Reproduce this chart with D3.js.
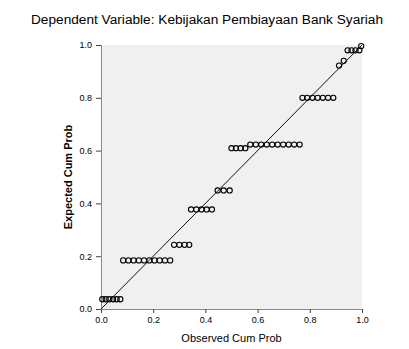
<!DOCTYPE html>
<html>
<head>
<meta charset="utf-8">
<script src="https://cdn.jsdelivr.net/npm/d3@7"></script>
<style>
  body { margin: 0; background: #fff; }
  svg { display: block; font-family: "Liberation Sans", Arial, sans-serif; }
</style>
</head>
<body>
<svg id="chart" width="409" height="349"></svg>
<script>
// Normal P-P plot: observed vs expected cumulative probability
const title = 'Dependent Variable: Kebijakan Pembiayaan Bank Syariah';
const xTitle = 'Observed Cum Prob';
const yTitle = 'Expected Cum Prob';
const tickValues = [0, 0.2, 0.4, 0.6, 0.8, 1.0];

const observed = [
    0.005, 0.018, 0.032, 0.046, 0.060, 0.074,
    0.085, 0.105, 0.125, 0.145, 0.165, 0.185, 0.205, 0.225, 0.245, 0.265,
    0.280, 0.300, 0.320, 0.338,
    0.345, 0.365, 0.385, 0.405, 0.425,
    0.447, 0.470, 0.493,
    0.500, 0.517, 0.535, 0.553,
    0.572, 0.593, 0.614, 0.635, 0.656, 0.677, 0.698, 0.719, 0.740, 0.761,
    0.772, 0.790, 0.810, 0.830, 0.850, 0.870, 0.890,
    0.912, 0.930,
    0.945, 0.960, 0.975, 0.990,
    0.997
];
const expected = [
    0.037, 0.037, 0.037, 0.037, 0.037, 0.037,
    0.184, 0.184, 0.184, 0.184, 0.184, 0.184, 0.184, 0.184, 0.184, 0.184,
    0.243, 0.243, 0.243, 0.243,
    0.377, 0.377, 0.377, 0.377, 0.377,
    0.449, 0.449, 0.449,
    0.609, 0.609, 0.609, 0.609,
    0.623, 0.623, 0.623, 0.623, 0.623, 0.623, 0.623, 0.623, 0.623, 0.623,
    0.800, 0.800, 0.800, 0.800, 0.800, 0.800, 0.800,
    0.922, 0.940,
    0.980, 0.980, 0.980, 0.980,
    0.996
];

const svg = d3.select('#chart');
const plot = { left: 101, right: 362, top: 45, bottom: 309 };

const x = d3.scaleLinear().domain([0, 1]).range([plot.left, plot.right]);
const y = d3.scaleLinear().domain([0, 1]).range([plot.bottom, plot.top]);

svg.append('rect')
    .attr('x', plot.left)
    .attr('y', plot.top)
    .attr('width', plot.right - plot.left)
    .attr('height', plot.bottom - plot.top)
    .attr('fill', '#f0f0f0');

const fmt = d3.format('.1f');

const xAxis = svg.append('g')
    .attr('transform', `translate(0,${plot.bottom})`)
    .call(d3.axisBottom(x).tickValues(tickValues).tickFormat(fmt).tickSize(4).tickPadding(4));
const yAxis = svg.append('g')
    .attr('transform', `translate(${plot.left},0)`)
    .call(d3.axisLeft(y).tickValues(tickValues).tickFormat(fmt).tickSize(5).tickPadding(4));

[xAxis, yAxis].forEach(function (g) {
    g.select('.domain').attr('stroke', '#888');
    g.selectAll('.tick line').attr('stroke', '#444');
    g.selectAll('.tick text')
        .attr('fill', '#000')
        .style('font-size', '9px')
        .style('font-family', '"Liberation Sans", Arial, sans-serif');
});

// reference diagonal
svg.append('line')
    .attr('x1', x(0)).attr('y1', y(0))
    .attr('x2', x(1)).attr('y2', y(1))
    .attr('stroke', '#111')
    .attr('stroke-width', 1);

const points = observed.map(function (d, i) {
    return { obs: d, exp: expected[i] };
});

svg.append('g')
    .selectAll('circle')
    .data(points)
    .join('circle')
    .attr('cx', function (d) { return x(d.obs); })
    .attr('cy', function (d) { return y(d.exp); })
    .attr('r', 2.6)
    .attr('fill', 'none')
    .attr('stroke', '#000')
    .attr('stroke-width', 1.1);

svg.append('text')
    .attr('x', 207)
    .attr('y', 24)
    .attr('text-anchor', 'middle')
    .attr('textLength', 352)
    .attr('lengthAdjust', 'spacingAndGlyphs')
    .style('font-size', '12.5px')
    .attr('fill', '#000')
    .text(title);

svg.append('text')
    .attr('x', (plot.left + plot.right) / 2)
    .attr('y', 342)
    .attr('text-anchor', 'middle')
    .style('font-size', '11px')
    .attr('fill', '#000')
    .text(xTitle);

svg.append('text')
    .attr('transform', `translate(72,${(plot.top + plot.bottom) / 2}) rotate(-90)`)
    .attr('text-anchor', 'middle')
    .style('font-size', '11px')
    .style('font-weight', 'bold')
    .attr('fill', '#000')
    .text(yTitle);
</script>
</body>
</html>
